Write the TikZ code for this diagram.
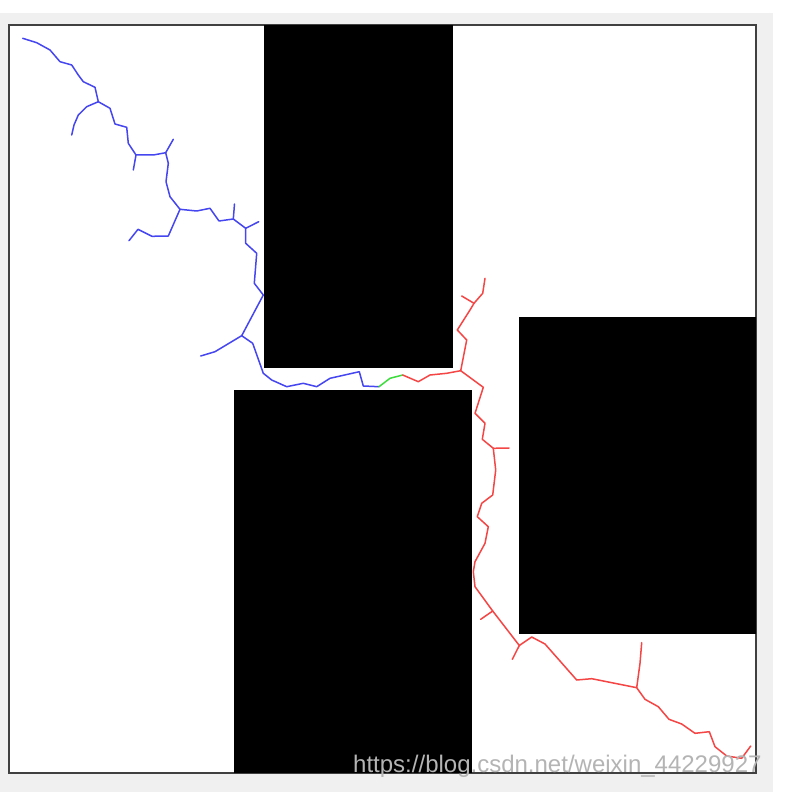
\documentclass[tikz,border=0pt]{standalone}
\usepackage{fontspec}
\setmainfont{Liberation Sans}
\usetikzlibrary{positioning}
\definecolor{panelgray}{RGB}{240,240,240}
\definecolor{treeblue}{RGB}{70,70,240}
\definecolor{treered}{RGB}{245,70,70}
\definecolor{treegreen}{RGB}{60,220,60}
\begin{document}
\begin{tikzpicture}[x=1pt, y=-1pt]
        \tikzset{obstacle/.style={fill=black},
                 frame/.style={draw=black!75, line width=1.3pt, fill=white},
                 branch/.style={line width=1.5pt, line join=round, line cap=round},
                 bluetree/.style={branch, draw=treeblue},
                 redtree/.style={branch, draw=treered},
                 bridge/.style={branch, draw=treegreen},
                 watermark/.style={anchor=base west, inner sep=0pt, text={rgb,255:red,180;green,180;blue,180}, font=\fontsize{24}{24}\selectfont}}
        \useasboundingbox (0,0) rectangle (798,797);
        \fill[white] (0,0) rectangle (798,797);
        \fill[panelgray] (0,13) rectangle (773,792);
        \draw[frame] (9,25) rectangle (756,773);
        % obstacles
        \fill[obstacle] (264,25) rectangle (453,368);
        \fill[obstacle] (234,390) rectangle (472,773);
        \fill[obstacle] (519,317) rectangle (756,634);
        % tree grown from the start
        \coordinate (j1) at (98.3,101.7);
        \coordinate (j2) at (136,155);
        \coordinate (j3) at (165.7,152.7);
        \coordinate (j4) at (180,209.3);
        \coordinate (j5) at (233.3,219);
        \coordinate (j6) at (245.7,228.3);
        \coordinate (j8) at (241.7,335.7);
        \coordinate (meetblue) at (379,386.7);
        \draw[bluetree] (22.7,38.3) -- (36.7,42.7) -- (50,50) -- (60,61.7) -- (71.7,65) -- (78.3,75) -- (83.3,81.7) -- (95,87.3) -- (j1)
                -- (110,108.3) -- (115,124) -- (126.7,127.3) -- (128.3,143.3) -- (j2) -- (153.3,155) -- (j3)
                -- (168.3,163.3) -- (166,181.7) -- (170,196.7) -- (j4) -- (196.7,211) -- (210,208.3) -- (219,221) -- (j5) -- (j6)
                -- (245.7,243.3) -- (256.7,253.3) -- (254.3,283.3) -- (263.3,295) -- (j8) -- (252.7,343.3) -- (263.3,373.3)
                -- (271.7,380) -- (286.7,386.7) -- (303.3,383.3) -- (316.7,386.7) -- (330,378.3) -- (359.3,371.7) -- (363.3,386) -- (meetblue);
        \draw[bluetree] (j1) -- (86.7,106.7) -- (78.3,115) -- (74,125) -- (71.7,135);
        \draw[bluetree] (j2) -- (133.3,170);
        \draw[bluetree] (j3) -- (173.3,139.3);
        \draw[bluetree] (j4) -- (168.3,236) -- (152,236.3) -- (138,229.3) -- (129,240.7);
        \draw[bluetree] (j5) -- (234.5,204);
        \draw[bluetree] (j6) -- (258.7,221.7);
        \draw[bluetree] (j8) -- (215,351.7) -- (200.7,356);
        % connecting piece
        \coordinate (meetred) at (402.7,375);
        \draw[bridge] (meetblue) -- (390,378.3) -- (meetred);
        % tree grown from the goal
        \coordinate (r1) at (460.7,370.7);
        \coordinate (r2) at (474,303.3);
        \coordinate (r3) at (493.3,448.3);
        \coordinate (r4) at (492.7,611);
        \coordinate (r5) at (519.3,645.5);
        \coordinate (r6) at (636.7,687.7);
        \draw[redtree] (meetred) -- (418.3,381.7) -- (430,375) -- (446.7,373.3) -- (r1) -- (483.3,387.3) -- (475,413.3) -- (485,423.3)
                -- (482.3,439.3) -- (r3) -- (495.7,470) -- (492.7,495) -- (481.7,503.3) -- (477.3,516.7) -- (488.3,526.7) -- (485,543.3)
                -- (475,561.7) -- (473.3,571.7) -- (475,586.7) -- (r4) -- (r5) -- (531.7,637) -- (545,644) -- (576.7,680) -- (591.7,678.7)
                -- (r6) -- (645,699.3) -- (658.3,706.7) -- (669,719.3) -- (681.7,724) -- (695,733.3) -- (709.3,731.7) -- (715,746.7)
                -- (726.7,756) -- (741.7,758.3) -- (750.7,746);
        \draw[redtree] (r1) -- (466.7,340) -- (457.3,330) -- (470,310) -- (r2) -- (482.7,293.3) -- (485,278.3);
        \draw[redtree] (r2) -- (461.7,296);
        \draw[redtree] (r3) -- (509,448);
        \draw[redtree] (r4) -- (480.7,619.3);
        \draw[redtree] (r5) -- (512.3,659.3);
        \draw[redtree] (r6) -- (640,663.3) -- (641.7,642.7);
        \node[watermark] (mark) at (353,772) {https://blog.csdn.net/weixin\_44229927};
    \end{tikzpicture}
\end{document}
